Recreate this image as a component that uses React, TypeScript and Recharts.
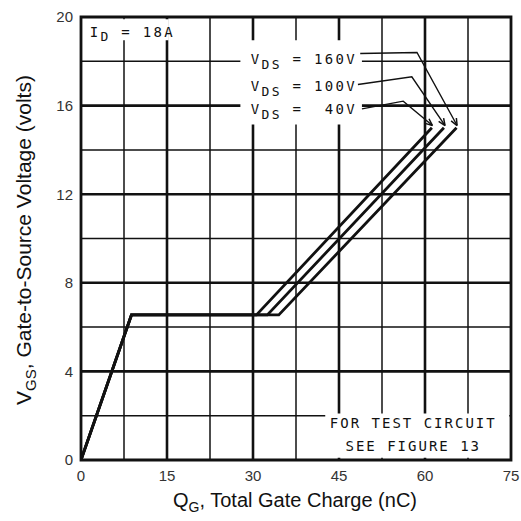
import React from 'react';
import { LineChart, Line, XAxis, YAxis, CartesianGrid, ReferenceArea, Customized } from 'recharts';

const qTicks = [0, 15, 30, 45, 60, 75];
const vTicks = [0, 4, 8, 12, 16, 20];
const majorQ = [15, 30, 45, 60];
const minorQ = [7.5, 22.5, 37.5, 52.5, 67.5];
const majorV = [4, 8, 12, 16];
const minorV = [2, 6, 10, 14, 18];

// gate charge curves (same V_GS breakpoints, plateau length differs with V_DS)
const vgsPoints = [0, 6.55, 6.55, 15.0];
const qg40 = [0, 8.8, 30.6, 61.2];
const qg100 = [0, 8.8, 32.5, 63.3];
const qg160 = [0, 8.8, 34.5, 65.5];

// leader lines from the V_DS labels down to the curve ends
const lead40Q = [49.0, 56.2, 61.3];
const lead40V = [15.85, 16.2, 15.1];
const lead100Q = [48.3, 57.7, 63.5];
const lead100V = [16.95, 17.3, 15.1];
const lead160Q = [48.7, 58.6, 65.6];
const lead160V = [18.35, 18.4, 15.1];

const vdsLabels = ['160V', '100V', '\u00a040V'];

const zip = (q: number[], v: number[]) => q.map((x, i) => ({ q: x, v: v[i] }));

const INK = '#111';
const MONO = '"DejaVu Sans Mono", monospace';
const SANS = '"Liberation Sans", Arial, sans-serif';
const SP = '\u00a0';

const Arrow = (props: any) => {
  const { cx, cy, index, points } = props;
  const last = (points?.length ?? 3) - 1;
  if (index !== last || cx == null) return <g key={`a-${index}`} />;
  // direction of the last leader segment
  const prev = points?.[last - 1];
  let dx = 0.47, dy = 0.88;
  if (prev) {
    const len = Math.hypot(cx - prev.x, cy - prev.y) || 1;
    dx = (cx - prev.x) / len;
    dy = (cy - prev.y) / len;
  }
  const L = 7, W = 3;
  const bx = cx - dx * L, by = cy - dy * L;
  return (
    <path
      key={`a-${index}`}
      d={`M${cx},${cy} L${bx - dy * W},${by + dx * W} M${cx},${cy} L${bx + dy * W},${by - dx * W}`}
      stroke={INK}
      strokeWidth={1.5}
      fill="none"
    />
  );
};

const IdLabel = ({ viewBox }: any) => {
  const { x, y } = viewBox;
  return (
    <text x={x + 7} y={y + 18} fill={INK} fontFamily={MONO} fontSize={14} letterSpacing={2.3}>
      I<tspan fontSize={13} dy={4}>D</tspan><tspan dy={-4}>{`${SP}=${SP}18A`}</tspan>
    </text>
  );
};

const VdsLabels = ({ viewBox }: any) => {
  const { x, y, width } = viewBox;
  const rows = [24, 51, 74];
  return (
    <g fill={INK}>
      {vdsLabels.map((t, i) => (
        <text key={t} x={x + width - 5} y={y + rows[i]} textAnchor="end" fontFamily={MONO} fontSize={14} letterSpacing={2.3}>
          V<tspan fontSize={13} dy={5}>DS</tspan><tspan dy={-5}>{`${SP}=${SP}${t}`}</tspan>
        </text>
      ))}
    </g>
  );
};

const TestLabel = ({ viewBox }: any) => {
  const { x, y, width } = viewBox;
  return (
    <g fill={INK}>
      <text x={x + width / 2 - 4} y={y + 15} textAnchor="middle" fontFamily={MONO} fontSize={14} letterSpacing={2}>
        FOR TEST CIRCUIT
      </text>
      <text x={x + width / 2 - 4} y={y + 38} textAnchor="middle" fontFamily={MONO} fontSize={14} letterSpacing={2}>
        SEE FIGURE 13
      </text>
    </g>
  );
};

const AxisTitles = () => (
  <g fill={INK}>
    <text x={295} y={507} textAnchor="middle" fontFamily={SANS} fontSize={20}>
      Q<tspan fontSize={14} dy={5}>G</tspan><tspan dy={-5}>, Total Gate Charge (nC)</tspan>
    </text>
    <text transform="translate(31,240) rotate(-90)" textAnchor="middle" fontFamily={SANS} fontSize={21}>
      V<tspan fontSize={15} dy={5}>GS</tspan><tspan dy={-5}>, Gate-to-Source Voltage (volts)</tspan>
    </text>
  </g>
);

export default function App() {
  const tickStyle = { fontFamily: SANS, fontSize: 15, fill: '#333' };
  const curves = [qg160, qg100, qg40];
  const leaders = [
    [lead160Q, lead160V],
    [lead100Q, lead100V],
    [lead40Q, lead40V],
  ];
  return (
    <div style={{ position: 'absolute', left: 0, top: 0, background: '#fff' }}>
      <LineChart width={521} height={521} margin={{ top: 17, right: 10, left: 0, bottom: 0 }}>
        <CartesianGrid horizontalValues={minorV} verticalValues={minorQ} stroke={INK} strokeWidth={1.5} />
        <CartesianGrid horizontalValues={majorV} verticalValues={majorQ} stroke={INK} strokeWidth={2.6} />
        <XAxis
          type="number"
          dataKey="q"
          domain={[0, 75]}
          ticks={qTicks}
          height={61}
          tickLine={false}
          axisLine={false}
          tick={tickStyle}
          tickMargin={4}
          allowDataOverflow
        />
        <YAxis
          type="number"
          dataKey="v"
          domain={[0, 20]}
          ticks={vTicks}
          width={81}
          tickLine={false}
          axisLine={false}
          tick={tickStyle}
          allowDataOverflow
        />
        {/* white patches behind the text blocks */}
        <ReferenceArea x1={0.3} x2={15.3} y1={18.95} y2={19.9} fill="#fff" fillOpacity={1} stroke="none" label={<IdLabel />} />
        <ReferenceArea x1={27.8} x2={49.0} y1={15.15} y2={18.95} fill="#fff" fillOpacity={1} stroke="none" label={<VdsLabels />} />
        <ReferenceArea x1={42.6} x2={74.7} y1={0.1} y2={2.1} fill="#fff" fillOpacity={1} stroke="none" label={<TestLabel />} />
        <ReferenceArea x1={0} x2={75} y1={0} y2={20} fill="none" stroke={INK} strokeWidth={2.8} />
        {curves.map((q, i) => (
          <Line
            key={`c${i}`}
            data={zip(q, vgsPoints)}
            dataKey="v"
            type="linear"
            stroke={INK}
            strokeWidth={2.8}
            dot={false}
            isAnimationActive={false}
          />
        ))}
        {leaders.map(([q, v], i) => (
          <Line
            key={`l${i}`}
            data={zip(q, v)}
            dataKey="v"
            type="linear"
            stroke={INK}
            strokeWidth={1.4}
            dot={<Arrow />}
            isAnimationActive={false}
          />
        ))}
        <Customized component={AxisTitles} />
      </LineChart>
    </div>
  );
}
